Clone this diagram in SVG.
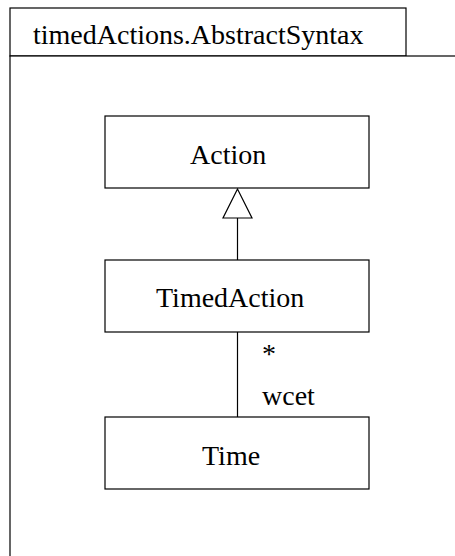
<svg xmlns="http://www.w3.org/2000/svg" width="455" height="556" viewBox="0 0 455 556">
<rect width="455" height="556" fill="#fff"/>
<g fill="#fff" stroke="#000" stroke-width="1.2">
<g id="package">
<rect x="10" y="8" width="396" height="48"/>
<rect x="10" y="56" width="460" height="520"/>
<text x="33" y="44" font-family="Liberation Serif" font-size="28" fill="#000" stroke="none">timedActions.AbstractSyntax</text>
</g>
<g id="connectors">
<line x1="237.5" y1="218" x2="237.5" y2="260"/>
<polygon points="237.5,189 223,218 252,218"/>
<line x1="237.5" y1="332" x2="237.5" y2="417"/>
<text x="262" y="363" font-family="Liberation Serif" font-size="28" fill="#000" stroke="none">*</text>
<text x="262" y="405" font-family="Liberation Serif" font-size="28" fill="#000" stroke="none">wcet</text>
</g>
<g id="Action">
<rect x="105" y="116" width="264" height="72"/>
<text x="190" y="164" font-family="Liberation Serif" font-size="28" fill="#000" stroke="none">Action</text>
</g>
<g id="TimedAction">
<rect x="105" y="260" width="264" height="72"/>
<text x="156" y="307" font-family="Liberation Serif" font-size="28" fill="#000" stroke="none">TimedAction</text>
</g>
<g id="Time">
<rect x="105" y="417" width="264" height="72"/>
<text x="202" y="465" font-family="Liberation Serif" font-size="28" fill="#000" stroke="none">Time</text>
</g>
</g>
</svg>
